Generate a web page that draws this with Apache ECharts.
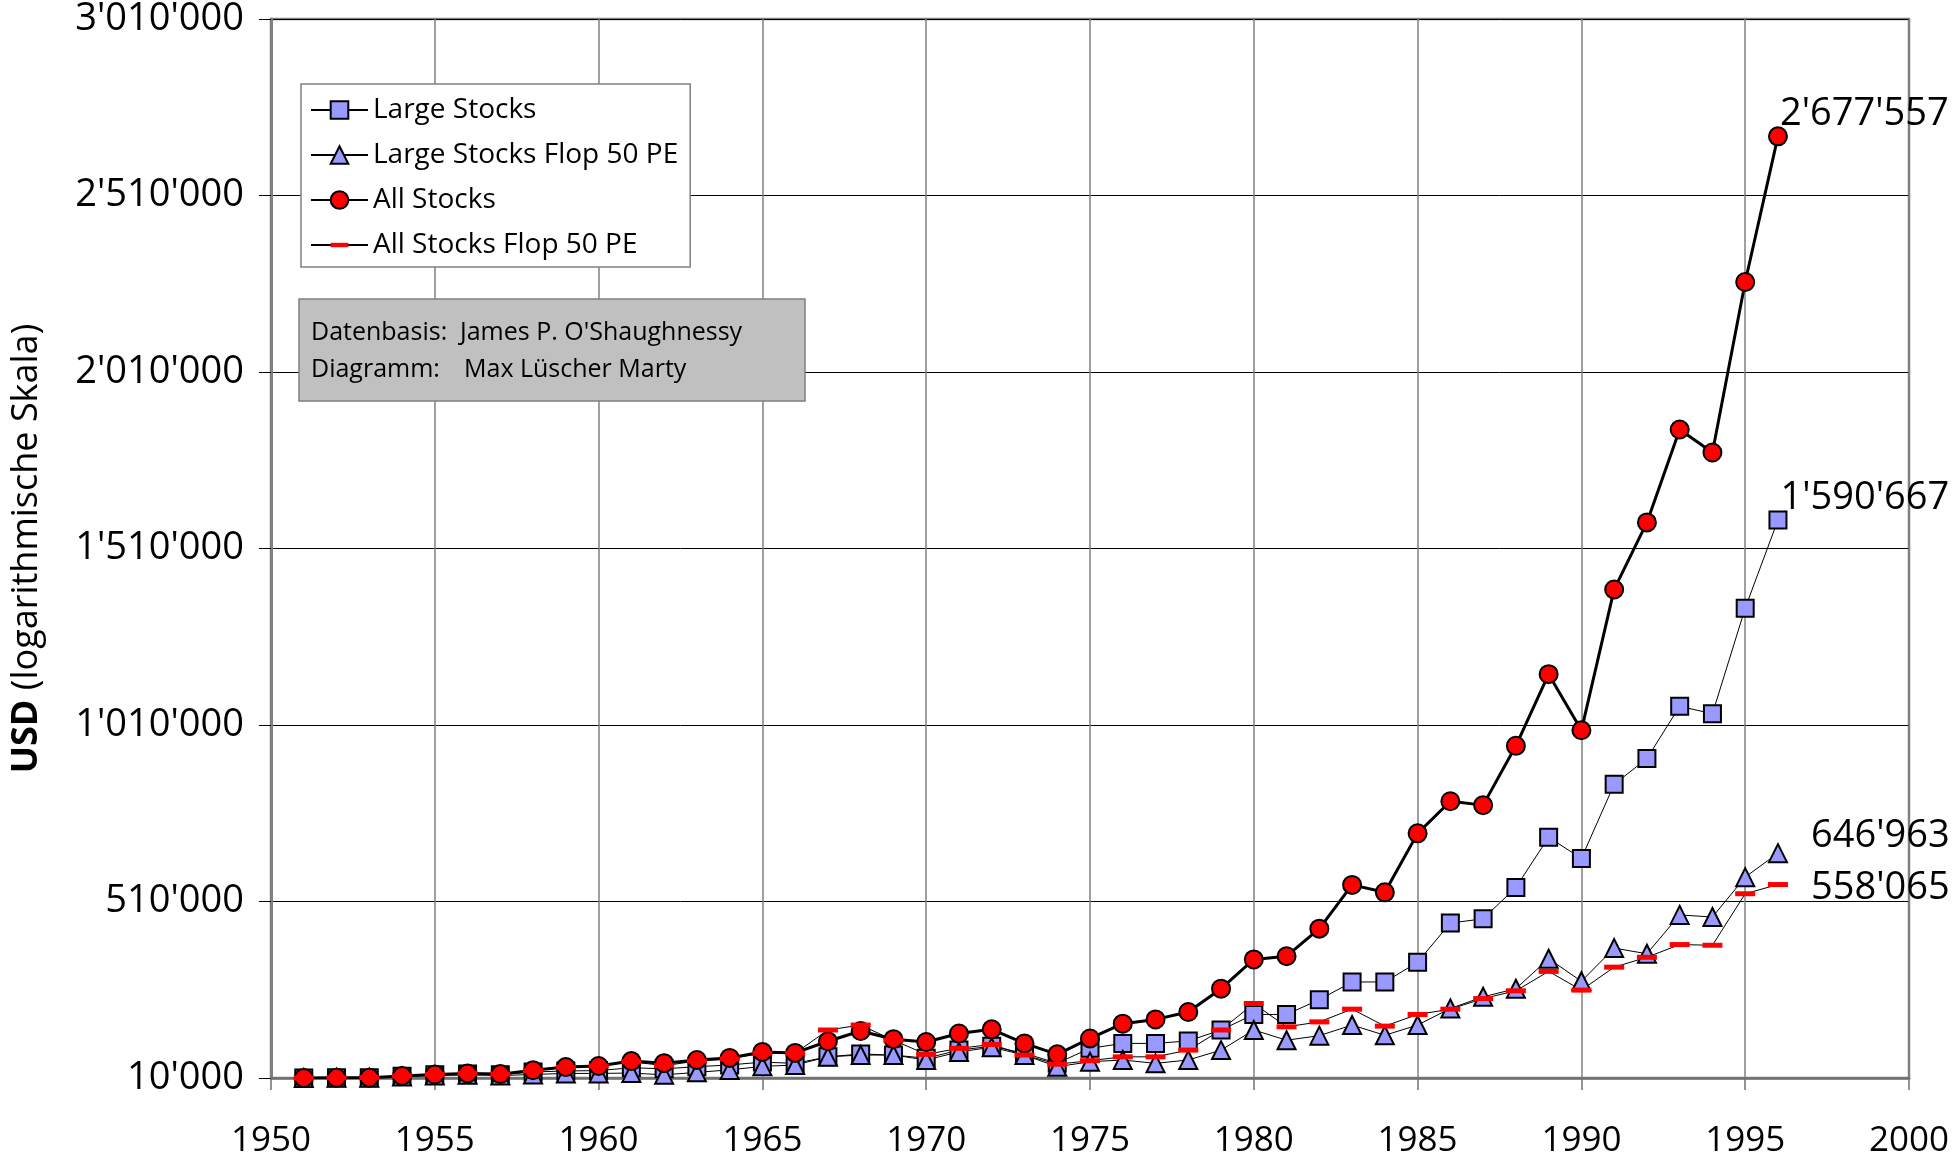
<!DOCTYPE html>
<html><head><meta charset="utf-8">
<script src="https://cdn.jsdelivr.net/npm/echarts@6/dist/echarts.min.js"></script>
<style>html,body{margin:0;padding:0;background:#fff}#c{width:1955px;height:1159px}</style>
</head><body><div id="c"></div>
<script>
const years = [1951,1952,1953,1954,1955,1956,1957,1958,1959,1960,1961,1962,1963,1964,1965,1966,1967,1968,1969,1970,1971,1972,1973,1974,1975,1976,1977,1978,1979,1980,1981,1982,1983,1984,1985,1986,1987,1988,1989,1990,1991,1992,1993,1994,1995,1996];
const largeStocks = [10000,10500,11000,15000,19000,21000,19000,27000,30000,31000,39000,36000,42000,47000,55000,51500,70000,78000,75000,66000,89000,100000,80000,52000,94000,108000,108000,115000,146000,190000,190000,232000,282000,282000,338000,449000,461000,550000,692000,632000,842000,915000,1063000,1042000,1341000,1590667];
const largeStocksFlop50PE = [10000,10500,11000,14000,17000,19000,17000,20000,23000,23000,24000,19000,26000,33000,43000,46700,70000,75000,75000,61000,84000,97000,75000,42000,56000,61000,51500,61000,89000,146000,117000,130000,160000,131000,160000,207000,240000,263000,348000,284000,378000,362000,472000,466000,579000,646963];
const allStocks = [10000,10500,11000,16000,20000,23000,21000,32000,41000,44000,58000,52000,61000,67000,84000,81000,114000,143000,120000,112000,136000,148000,108000,77000,122000,164000,176000,197000,263000,346000,355000,433000,557000,536000,703000,794000,783000,951000,1154000,995000,1394000,1584000,1847000,1782000,2265000,2677557];
const allStocksFlop50PE = [10000,10500,11000,16000,20000,23000,21000,31000,40000,44000,56000,45000,58000,64000,80000,80000,146000,160000,117000,77000,94000,105000,75000,49000,59000,70000,70000,89000,146000,221000,155000,169000,205000,157000,190000,205000,235000,257000,312000,259000,324000,352000,388000,386000,532000,558065];
const xTickRange = [1950, 2000, 5];
const yTickRange = [10000, 3010000, 500000];
const seriesNames = ['Large Stocks','Large Stocks Flop 50 PE','All Stocks','All Stocks Flop 50 PE'];

const FONT = '"Open Sans", "Noto Sans", sans-serif';
function fmt(v){ return String(Math.round(v)).replace(/\B(?=(\d{3})+(?!\d))/g, "'"); }

function mk(name, arr, opts, lab) {
  const data = years.map((y,i)=>[y, arr[i]]);
  const li = data.length-1;
  data[li] = {value: data[li], label: Object.assign({show:true, formatter: p=>fmt(p.value[1]), fontSize:38, fontFamily:FONT, color:'#000', position:'right', distance:0}, lab)};
  return Object.assign({type:'line', name, data, showAllSymbol:true, animation:false, emphasis:{disabled:true}}, opts);
}
const blueItem = {color:'#9999FF', borderColor:'#000', borderWidth:2};
const chart = echarts.init(document.getElementById('c'), null, {renderer:'canvas'});
chart.setOption({
  backgroundColor:'#fff',
  textStyle:{fontFamily:FONT},
  grid:{left:271, right:46, top:16, bottom:81, show:true, borderColor:'#808080', borderWidth:2.5},
  legend:{
    orient:'vertical', left:301, top:84, padding:[12,12,8,9],
    itemWidth:57, itemHeight:22, itemGap:17,
    backgroundColor:'#fff', borderColor:'#808080', borderWidth:1.5,
    textStyle:{fontSize:28, fontFamily:FONT, color:'#000'},
    data: seriesNames
  },
  xAxis:{
    type:'value', min:xTickRange[0], max:xTickRange[1], interval:xTickRange[2],
    axisLine:{show:true, lineStyle:{color:'#707070', width:2.5}},
    axisTick:{show:true, length:12, lineStyle:{color:'#707070', width:1.5}},
    axisLabel:{fontSize:35, margin:46, color:'#000', fontFamily:FONT, formatter: v=>String(v)},
    splitLine:{show:true, lineStyle:{color:'#808080', width:1.5}}
  },
  yAxis:{
    type:'value', min:yTickRange[0], max:yTickRange[1], interval:yTickRange[2],
    name:'{b|USD} (logarithmische Skala)', nameLocation:'middle', nameGap:226, nameRotate:90,
    nameTextStyle:{fontSize:36, fontFamily:FONT, color:'#000', rich:{b:{fontSize:36, fontWeight:'bold', fontFamily:FONT}}},
    axisLine:{show:true, lineStyle:{color:'#808080', width:3}},
    axisTick:{show:true, length:12, lineStyle:{color:'#000', width:1}},
    axisLabel:{fontSize:38, margin:27, color:'#000', fontFamily:FONT, formatter: v=>fmt(v)},
    splitLine:{show:true, lineStyle:{color:'#000', width:1}}
  },
  graphic:[
    {type:'rect', shape:{x:299, y:299, width:506, height:102}, style:{fill:'#C0C0C0', stroke:'#808080', lineWidth:1.5}, z:100},
    {type:'text', x:311, y:333, style:{text:'Datenbasis:', font:'25px "Open Sans"', fill:'#000', verticalAlign:'middle'}, z:101},
    {type:'text', x:460, y:333, style:{text:"James P. O'Shaughnessy", font:'25px "Open Sans"', fill:'#000', verticalAlign:'middle'}, z:101},
    {type:'text', x:311, y:370, style:{text:'Diagramm:', font:'25px "Open Sans"', fill:'#000', verticalAlign:'middle'}, z:101},
    {type:'text', x:464, y:370, style:{text:'Max Lüscher Marty', font:'25px "Open Sans"', fill:'#000', verticalAlign:'middle'}, z:101}
  ],
  series:[
    mk(seriesNames[0], largeStocks, {symbol:'rect', symbolSize:17, itemStyle:blueItem, lineStyle:{color:'#000', width:1}}, {offset:[-7,-22]}),
    mk(seriesNames[1], largeStocksFlop50PE, {symbol:'triangle', symbolSize:18, itemStyle:blueItem, lineStyle:{color:'#000', width:1}}, {offset:[23,-17]}),
    mk(seriesNames[2], allStocks, {symbol:'circle', symbolSize:18, itemStyle:{color:'#FF0000', borderColor:'#000', borderWidth:2}, lineStyle:{color:'#000', width:3}}, {offset:[-8,-22]}),
    mk(seriesNames[3], allStocksFlop50PE, {symbol:'path://M0,0 M0,7.5 L20,7.5 L20,12.5 L0,12.5 Z M20,20', symbolSize:20, itemStyle:{color:'#FF0000', borderWidth:0}, lineStyle:{color:'#000', width:1}}, {offset:[23,4]})
  ]
});
</script></body></html>
